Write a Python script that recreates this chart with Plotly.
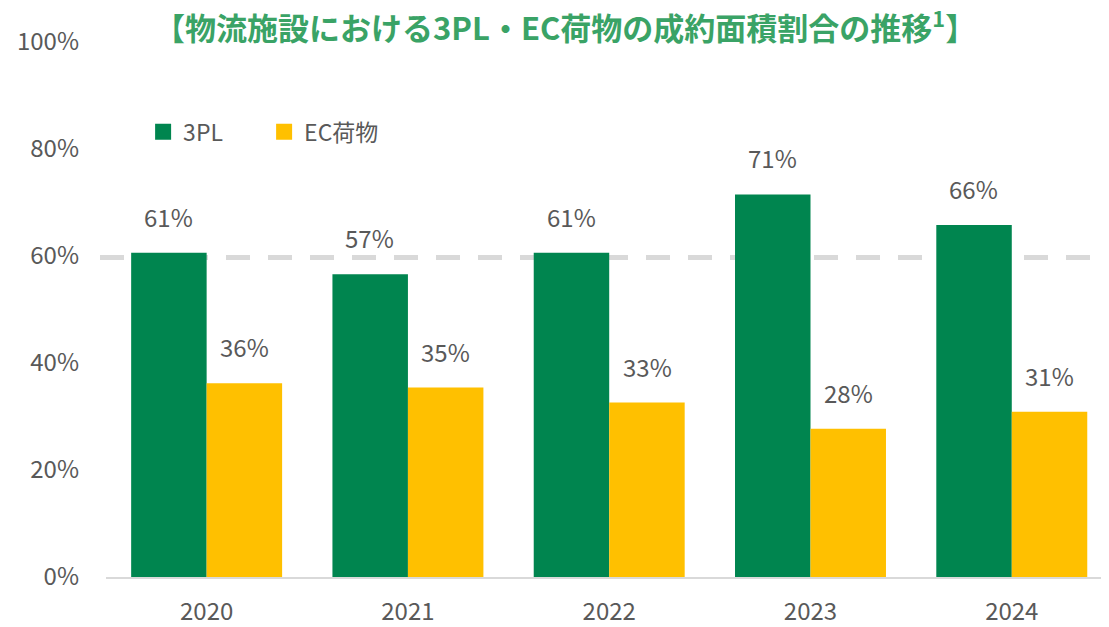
import plotly.graph_objects as go

years = ["2020", "2021", "2022", "2023", "2024"]
pl3_values = [60.6, 56.6, 60.6, 71.5, 65.8]
ec_values = [36.2, 35.4, 32.6, 27.7, 30.9]
pl3_labels = ["61%", "57%", "61%", "71%", "66%"]
ec_labels = ["36%", "35%", "33%", "28%", "31%"]
reference_line = 59.7
y_ticks = [0, 20, 40, 60, 80, 100]
y_tick_labels = ["0%", "20%", "40%", "60%", "80%", "100%"]

GREEN = "#00854F"
YELLOW = "#FFC000"
TEXT = "#595959"
FONT = "Noto Sans CJK JP"

fig = go.Figure()
fig.add_trace(go.Bar(x=years, y=pl3_values, name="3PL", marker_color=GREEN,
                     marker_line_width=0, hoverinfo="skip", showlegend=False))
fig.add_trace(go.Bar(x=years, y=ec_values, name="EC荷物", marker_color=YELLOW,
                     marker_line_width=0, hoverinfo="skip", showlegend=False))
# legend entries with larger square swatches
for name, col in [("3PL", GREEN), ("EC荷物", YELLOW)]:
    fig.add_trace(go.Scatter(x=[None], y=[None], mode="markers", name=name,
                             marker=dict(symbol="square", size=16, color=col),
                             hoverinfo="skip"))

for i in range(len(years)):
    fig.add_annotation(x=i, y=pl3_values[i], text=pl3_labels[i], showarrow=False,
                       yanchor="bottom", yshift=17, xshift=-38,
                       font=dict(family=FONT, size=24, color=TEXT))
    fig.add_annotation(x=i, y=ec_values[i], text=ec_labels[i], showarrow=False,
                       yanchor="bottom", yshift=17, xshift=38,
                       font=dict(family=FONT, size=24, color=TEXT))

fig.add_shape(type="line", xref="paper", yref="y", x0=-0.006, x1=1, y0=reference_line,
              y1=reference_line, layer="below",
              line=dict(color="#D9D9D9", width=5, dash="24px,18px"))

# page body has an 8px default margin; size figure so plot area lands as in reference
fig.update_layout(
    width=1101, height=619,
    margin=dict(l=98, r=0, t=34, b=36),
    paper_bgcolor="white", plot_bgcolor="white",
    barmode="group", bargap=0.25, bargroupgap=0,
    font=dict(family=FONT, color=TEXT),
    title=dict(text="【物流施設における3PL・EC荷物の成約面積割合の推移<sup>1</sup>】",
               x=0.506, xanchor="center", y=0.966, yanchor="middle",
               font=dict(family=FONT, size=31, color="#3AA366", weight="bold")),
    legend=dict(orientation="h", x=0.037, xanchor="left", y=0.832, yanchor="middle",
                font=dict(family=FONT, size=23, color=TEXT),
                bgcolor="rgba(0,0,0,0)", entrywidth=76, traceorder="normal",
                itemclick=False, itemdoubleclick=False),
    showlegend=True,
)
fig.update_xaxes(type="category", range=[-0.5, 4.483], showgrid=False, showline=True,
                 linecolor="#D9D9D9", linewidth=2, ticks="", ticklabelstandoff=12,
                 tickfont=dict(family=FONT, size=24, color=TEXT))
fig.update_yaxes(range=[0, 100], tickvals=y_ticks, ticktext=y_tick_labels,
                 showgrid=False, zeroline=False, showline=False, ticks="",
                 ticklabelstandoff=26,
                 tickfont=dict(family=FONT, size=24, color=TEXT))

fig.write_html("out.html")
